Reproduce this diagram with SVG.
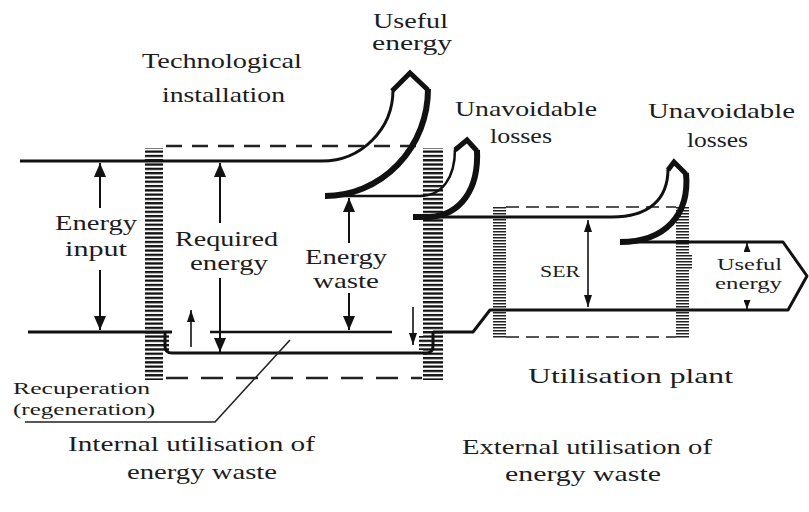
<svg xmlns="http://www.w3.org/2000/svg" width="809" height="512" viewBox="0 0 809 512">
<style>
  text { font-family: 'Times New Roman', 'Liberation Serif', 'DejaVu Serif', Times, serif; fill: #1c1c1c; font-size: 21px; }
  .sm { font-size: 17px; }
  .xs { font-size: 16px; }
  .flow { fill: none; stroke: #111; stroke-width: 3; stroke-linejoin: round; }
  .thin { fill: none; stroke: #111; stroke-width: 2.5; }
  .thick { fill: none; stroke: #111; stroke-width: 6; }
  .chev { fill: none; stroke: #111; stroke-width: 5; stroke-linejoin: miter; }
  .arr { fill: none; stroke: #111; stroke-width: 2; }
  .arr-s { fill: none; stroke: #111; stroke-width: 1.6; }
  .dash1 { fill: none; stroke: #222; stroke-width: 2.5; stroke-dasharray: 16 10; }
  .dash2 { fill: none; stroke: #222; stroke-width: 2.5; stroke-dasharray: 22 13; }
  .dash3 { fill: none; stroke: #555; stroke-width: 2; stroke-dasharray: 13 7; }
  .lead { fill: none; stroke: #222; stroke-width: 1.6; }
</style>
<defs>
  <pattern id="hatchA" width="6" height="4.3" patternUnits="userSpaceOnUse">
    <rect width="6" height="2.3" fill="#111"/>
  </pattern>
  <pattern id="hatchB" width="6" height="3" patternUnits="userSpaceOnUse">
    <rect width="6" height="1.5" fill="#222"/>
  </pattern>
  <marker id="big" viewBox="0 0 14 12" refX="14" refY="6" markerWidth="14" markerHeight="12" markerUnits="userSpaceOnUse" orient="auto-start-reverse">
    <path d="M0,0 L14,6 L0,12 z" fill="#111"/>
  </marker>
  <marker id="small" viewBox="0 0 12 8" refX="12" refY="4" markerWidth="12" markerHeight="8" markerUnits="userSpaceOnUse" orient="auto-start-reverse">
    <path d="M0,0 L12,4 L0,8 z" fill="#111"/>
  </marker>
  <marker id="tiny" viewBox="0 0 9 7" refX="9" refY="3.5" markerWidth="9" markerHeight="7" markerUnits="userSpaceOnUse" orient="auto-start-reverse">
    <path d="M0,0 L9,3.5 L0,7 z" fill="#111"/>
  </marker>
</defs>
<rect width="809" height="512" fill="#fff"/>

<g id="installation">
  <line class="dash1" x1="166" y1="146" x2="422" y2="146"/>
  <line class="dash2" x1="166" y1="378" x2="422" y2="378"/>
  <rect x="145" y="148" width="18" height="232" fill="url(#hatchA)"/>
  <rect x="423" y="148" width="20" height="232" fill="url(#hatchA)"/>
  <rect x="163" y="334" width="6" height="18" fill="url(#hatchA)"/>
  <rect x="419" y="336" width="4" height="14" fill="url(#hatchA)"/>
  <text x="142" y="68" textLength="160" lengthAdjust="spacingAndGlyphs">Technological</text>
  <text x="162" y="102" textLength="123" lengthAdjust="spacingAndGlyphs">installation</text>
</g>

<g id="utilisation-plant">
  <line class="dash3" x1="506" y1="207" x2="676" y2="207"/>
  <line class="dash3" x1="506" y1="337" x2="676" y2="337"/>
  <rect x="493" y="207" width="13" height="131" fill="url(#hatchB)"/>
  <rect x="676" y="207" width="13" height="131" fill="url(#hatchB)"/>
  <rect x="689" y="255" width="3" height="14" fill="url(#hatchB)"/>
  <text x="528" y="383" textLength="205" lengthAdjust="spacingAndGlyphs">Utilisation plant</text>
</g>

<g id="connectors">
  <path class="flow" d="M20 161 L322 161 A71 71 0 0 0 393 90"/>
  <polyline class="chev" points="392,91 410,73 428,90"/>
  <path class="thick" d="M428 89 A103 107 0 0 1 325 196"/>
  <path class="thin" d="M325 196 L420 196 C442 196 455 178 455 149"/>
  <polyline class="chev" points="455,150 467,140 477,151"/>
  <path class="thick" d="M477 150 C479 190 460 215 430 217 L413 217"/>
  <path class="flow" d="M430 217 L612 217 C648 217 668 200 668 169"/>
  <polyline class="chev" points="668,170 674,162 686,174"/>
  <path class="thick" d="M686 173 C690 215 665 242 620 242"/>
  <path class="flow" d="M620 242 L783 242 L807 276 L788 310 L490 310 L473 332 L433 332"/>
  <line class="flow" x1="28" y1="332" x2="172" y2="332"/>
  <path class="flow" d="M165 332 L165 346 Q165 353 172 353 L426 353 Q433 353 433 346 L433 332"/>
  <line class="thin" x1="210" y1="332" x2="392" y2="332"/>
  <line class="arr" x1="100" y1="163" x2="100" y2="208" marker-start="url(#big)"/>
  <line class="arr" x1="100" y1="270" x2="100" y2="330" marker-end="url(#big)"/>
  <line class="arr" x1="220" y1="163" x2="220" y2="223" marker-start="url(#big)"/>
  <line class="arr" x1="220" y1="278" x2="220" y2="352" marker-end="url(#big)"/>
  <line class="arr" x1="349" y1="198" x2="349" y2="243" marker-start="url(#big)"/>
  <line class="arr" x1="349" y1="293" x2="349" y2="330" marker-end="url(#big)"/>
  <line class="arr-s" x1="191" y1="347" x2="191" y2="310" marker-end="url(#small)"/>
  <line class="arr-s" x1="413" y1="307" x2="413" y2="345" marker-end="url(#small)"/>
  <line class="arr-s" x1="588" y1="220" x2="588" y2="307" marker-start="url(#small)" marker-end="url(#small)"/>
  <line class="arr-s" x1="747" y1="252" x2="747" y2="243" marker-end="url(#tiny)"/>
  <line class="arr-s" x1="747" y1="301" x2="747" y2="309" marker-end="url(#tiny)"/>
  <polyline class="lead" points="290,340 215,422 25,422"/>
</g>

<g id="labels">
  <text x="373" y="28" textLength="75" lengthAdjust="spacingAndGlyphs">Useful</text>
  <text x="372" y="50" textLength="80" lengthAdjust="spacingAndGlyphs">energy</text>
  <text x="455" y="116" textLength="142" lengthAdjust="spacingAndGlyphs">Unavoidable</text>
  <text x="490" y="143" textLength="62" lengthAdjust="spacingAndGlyphs">losses</text>
  <text x="648" y="118" textLength="147" lengthAdjust="spacingAndGlyphs">Unavoidable</text>
  <text x="687" y="147" textLength="61" lengthAdjust="spacingAndGlyphs">losses</text>
  <text x="55" y="230" textLength="82" lengthAdjust="spacingAndGlyphs">Energy</text>
  <text x="65" y="256" textLength="62" lengthAdjust="spacingAndGlyphs">input</text>
  <text x="175" y="246" textLength="103" lengthAdjust="spacingAndGlyphs">Required</text>
  <text x="190" y="270" textLength="78" lengthAdjust="spacingAndGlyphs">energy</text>
  <text x="305" y="264" textLength="82" lengthAdjust="spacingAndGlyphs">Energy</text>
  <text x="313" y="288" textLength="66" lengthAdjust="spacingAndGlyphs">waste</text>
  <text class="sm" x="540" y="277" textLength="40" lengthAdjust="spacingAndGlyphs">SER</text>
  <text class="xs" x="717" y="270" textLength="65" lengthAdjust="spacingAndGlyphs">Useful</text>
  <text class="xs" x="715" y="289" textLength="67" lengthAdjust="spacingAndGlyphs">energy</text>
  <text class="sm" x="13" y="394" textLength="137" lengthAdjust="spacingAndGlyphs">Recuperation</text>
  <text class="sm" x="13" y="415" textLength="142" lengthAdjust="spacingAndGlyphs">(regeneration)</text>
  <text x="68" y="451" textLength="247" lengthAdjust="spacingAndGlyphs">Internal utilisation of</text>
  <text x="127" y="479" textLength="150" lengthAdjust="spacingAndGlyphs">energy waste</text>
  <text x="462" y="454" textLength="250" lengthAdjust="spacingAndGlyphs">External utilisation of</text>
  <text x="505" y="481" textLength="156" lengthAdjust="spacingAndGlyphs">energy waste</text>
</g>
</svg>
